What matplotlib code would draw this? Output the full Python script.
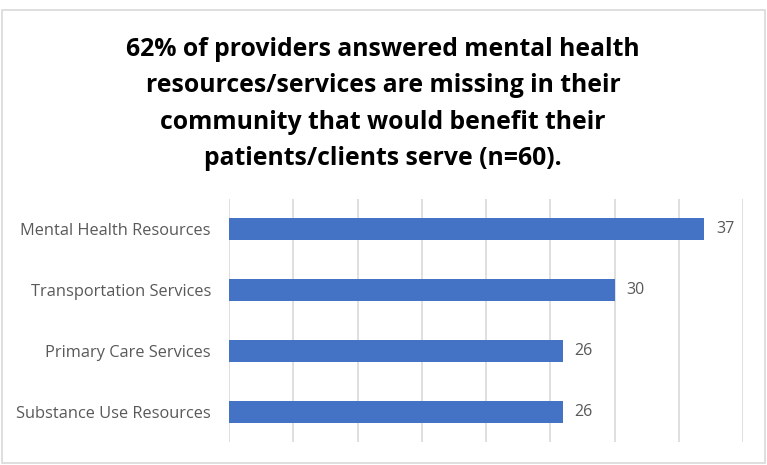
import matplotlib.pyplot as plt
from matplotlib.patches import Rectangle

# data
categories = ['Mental Health Resources', 'Transportation Services',
              'Primary Care Services', 'Substance Use Resources']
counts = [37, 30, 26, 26]
title = ('62% of providers answered mental health\n'
         'resources/services are missing in their\n'
         'community that would benefit their\n'
         'patients/clients serve (n=60).')

W, H = 767, 465
fig = plt.figure(figsize=(W / 100, H / 100), dpi=100)

# outer chart border
fig.patches.append(Rectangle((2 / W, 2 / H), 763 / W, 453 / H, transform=fig.transFigure,
                             fill=False, edgecolor='#d9d9d9', linewidth=1.2))

ax = fig.add_axes([229 / W, 23 / H, 514 / W, 243 / H])
y = range(len(categories))
ax.barh(y, counts, height=0.36, color='#4472c4')
ax.set_ylim(3.5, -0.5)
ax.set_xlim(0, 40)
ax.set_xticks(range(0, 41, 5))
ax.xaxis.grid(True, color='#d9d9d9', linewidth=1.2)
ax.set_axisbelow(True)
ax.tick_params(axis='x', length=0, labelbottom=False)
ax.tick_params(axis='y', length=0, pad=13)
ax.set_yticks(list(y))
ax.set_yticklabels(categories, fontsize=11.8, color='#595959', family='Open Sans')
for s in ax.spines.values():
    s.set_visible(False)

for i, v in enumerate(counts):
    ax.text(v + 0.9, i, str(v), va='center', ha='left', fontsize=11.5,
            color='#595959', family='Open Sans')

fig.text(383 / W, 1 - 104 / H, title, ha='center', va='center', fontsize=17.8,
         fontweight='bold', family='Open Sans', color='#000000', linespacing=1.58)

fig.savefig('out.png', dpi=100)
